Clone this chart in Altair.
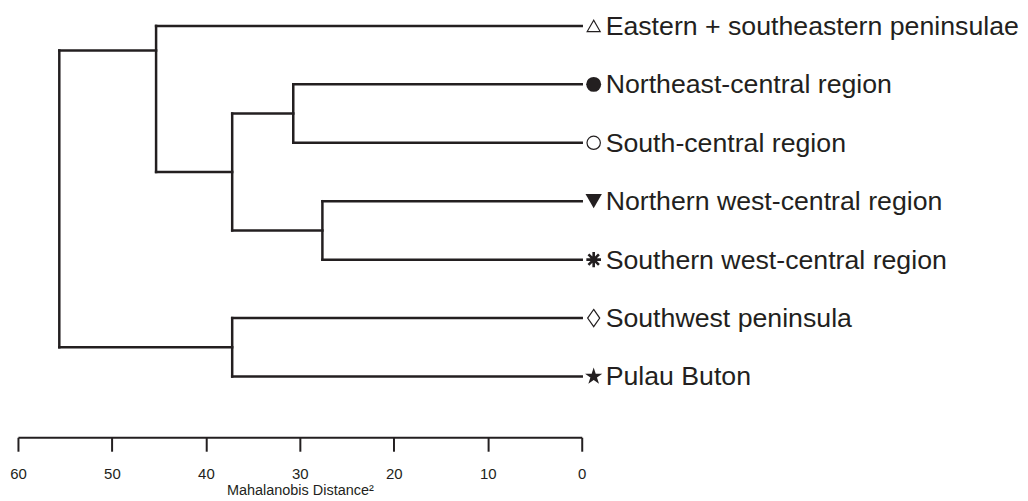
import altair as alt
import pandas as pd

# ---- data ----
leaves = [
    "Eastern + southeastern peninsulae",
    "Northeast-central region",
    "South-central region",
    "Northern west-central region",
    "Southern west-central region",
    "Southwest peninsula",
    "Pulau Buton",
]
marker_shape = ["triangle-up", "circle", "circle", "triangle-down", "asterisk", "diamond", "star"]
marker_filled = [False, True, False, True, False, False, True]

# merges: (child a, child b, Mahalanobis distance^2); ids >= 7 are earlier merges
merge_a = [1, 3, 7, 0, 5, 10]
merge_b = [2, 4, 8, 9, 6, 11]
merge_height = [30.7, 27.6, 37.2, 45.3, 37.2, 55.6]
merge_attach = [1.5, 3.5, 2.5, 0.42, 5.5, 3.0]  # vertical attachment in leaf units

x_ticks = [60, 50, 40, 30, 20, 10, 0]

# ---- build segments ----
n = len(leaves)
height = {i: 0.0 for i in range(n)}
ypos = {i: float(i) for i in range(n)}
for k in range(len(merge_a)):
    height[n + k] = merge_height[k]
    ypos[n + k] = merge_attach[k]

segs = []
for k in range(len(merge_a)):
    h = merge_height[k]
    a, b = merge_a[k], merge_b[k]
    segs.append(dict(x=h, x2=h, y=ypos[a], y2=ypos[b]))
    for c in (a, b):
        segs.append(dict(x=height[c], x2=h, y=ypos[c], y2=ypos[c]))
seg_df = pd.DataFrame(segs)

STAR = ("M0,-1L0.224,-0.309L0.951,-0.309L0.363,0.118L0.588,0.809"
        "L0,0.382L-0.588,0.809L-0.363,0.118L-0.951,-0.309L-0.224,-0.309Z")
AST = "M0,-1L0,1M-0.95,0L0.95,0M-0.68,-0.68L0.68,0.68M-0.68,0.68L0.68,-0.68"
DIAM = "M0,-1L0.7,0L0,1L-0.7,0Z"
shape_path = {"triangle-up": "triangle-up", "circle": "circle", "triangle-down": "triangle-down",
              "diamond": DIAM, "star": STAR, "asterisk": AST}
size_map = {("triangle-up", False): 170, ("circle", True): 225, ("circle", False): 180,
            ("triangle-down", True): 270, ("asterisk", False): 240, ("diamond", False): 300,
            ("star", True): 330}

leaf_df = pd.DataFrame({
    "label": leaves,
    "idx": list(range(n)),
    "d": [0.0] * n,
    "shape": [shape_path[s] for s in marker_shape],
    "size": [size_map[(s, f)] for s, f in zip(marker_shape, marker_filled)],
    "filled": marker_filled,
    "sw": [2.6 if s == "asterisk" else 1.2 for s in marker_shape],
})

INK = "#231f20"
xscale = alt.Scale(domain=[0, 60], reverse=True, nice=False)
yscale = alt.Scale(domain=[-0.29, 7.04], reverse=True, nice=False, zero=False)

xaxis = alt.Axis(
    values=x_ticks, title="Mahalanobis Distance²", grid=False,
    domainColor=INK, domainWidth=2, tickColor=INK, tickWidth=2, tickSize=14,
    labelFont="Liberation Sans", labelFontSize=15, labelColor=INK, labelPadding=15,
    titleFont="Liberation Sans", titleFontSize=14.5, titleFontWeight="normal",
    titleColor=INK, titlePadding=2, labelFlush=False,
)

lines = alt.Chart(seg_df).mark_rule(color=INK, strokeWidth=2.5, strokeCap="square").encode(
    x=alt.X("x:Q", scale=xscale, axis=xaxis),
    x2="x2:Q",
    y=alt.Y("y:Q", scale=yscale, axis=None),
    y2="y2:Q",
)

filled_pts = alt.Chart(leaf_df).transform_filter("datum.filled").mark_point(
    filled=True, color=INK, opacity=1, xOffset=12
).encode(
    x=alt.X("d:Q", scale=xscale),
    y=alt.Y("idx:Q", scale=yscale),
    shape=alt.Shape("shape:N", scale=None),
    size=alt.Size("size:Q", scale=None),
)

open_pts = alt.Chart(leaf_df).transform_filter("!datum.filled").mark_point(
    filled=False, color=INK, opacity=1, xOffset=12
).encode(
    x=alt.X("d:Q", scale=xscale),
    y=alt.Y("idx:Q", scale=yscale),
    shape=alt.Shape("shape:N", scale=None),
    size=alt.Size("size:Q", scale=None),
    strokeWidth=alt.StrokeWidth("sw:Q", scale=None),
)

labels = alt.Chart(leaf_df).mark_text(
    align="left", baseline="middle", dx=24, dy=1, font="Liberation Sans",
    fontSize=26.8, color=INK
).encode(
    x=alt.X("d:Q", scale=xscale),
    y=alt.Y("idx:Q", scale=yscale),
    text="label:N",
)

chart = alt.layer(lines, filled_pts, open_pts, labels).properties(
    width=566, height=430,
    autosize=alt.AutoSizeParams(type="none"),
    padding={"left": 10, "top": 0, "right": 440, "bottom": 62},
).configure(background="white").configure_view(stroke=None)

chart.save("out.html", embed_options={"renderer": "svg", "actions": False})
